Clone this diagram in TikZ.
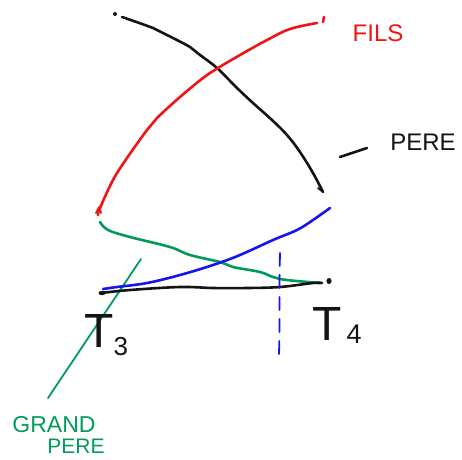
\documentclass[tikz,border=0pt]{standalone}
\usepackage{fontspec}
\setmainfont{Liberation Sans}
\definecolor{sred}{RGB}{240,20,20}
\definecolor{sgreen}{RGB}{0,155,90}
\definecolor{sblue}{RGB}{20,20,235}
\definecolor{sblack}{RGB}{20,20,20}
\begin{document}
\begin{tikzpicture}[x=1pt,y=-1pt,
  stroke/.style={line width=2.6pt,line cap=round,line join=round},
  thinstroke/.style={line width=1.8pt,line cap=round,line join=round},
  lbl/.style={inner sep=0pt,font=\fontsize{#1}{#1}\selectfont},
  lbl/.default=24]
\useasboundingbox (0,0) rectangle (462,459);
% black curve (PERE)
\fill[sblack] (115,14) circle (2pt);
\draw[stroke,sblack] plot[smooth,tension=0.6] coordinates {(122,17) (153,28) (167,35) (190,47) (200,55) (217,68) (237,88) (253,103) (272,120) (287,135) (300,152) (313,173) (323,192)};
\draw[thinstroke,sblack] (318,188) -- (323,192);
% red curve (FILS)
\draw[stroke,sred] plot[smooth,tension=0.6] coordinates {(98,215) (100,208) (113,180) (127,158) (147,130) (157,118) (180,97) (203,78) (218,68) (240,55) (267,40) (290,29) (317,23)};
\draw[thinstroke,sred] (96,213) -- (99,207) -- (101,213);
\draw[stroke,sred] (324,17) -- (323,22);
% green curve
\draw[stroke,sgreen] plot[smooth,tension=0.6] coordinates {(100,222) (108,230) (130,237) (170,247) (190,255) (220,262) (233,267) (260,272) (273,277) (287,280) (320,283)};
% green line (GRAND PERE)
\draw[thinstroke,sgreen] (141,259) -- (48,398);
% blue curve
\draw[stroke,sblue] plot[smooth,tension=0.6] coordinates {(103,289) (117,287) (147,283) (180,275) (213,265) (240,255) (273,240) (297,230) (313,220) (330,208)};
% black horizontal
\draw[stroke,sblack] plot[smooth,tension=0.6] coordinates {(101,293) (130,290) (180,287) (213,288) (247,288) (280,287) (313,283) (322,283)};
\fill[sblack] (102,293) ellipse (3.5pt and 2.2pt);
\fill[sblack] (329,281) ellipse (2.6pt and 3pt);
% blue dashed vertical
\draw[thinstroke,sblue,dash pattern=on 13pt off 9pt] (280,253) .. controls (279,290) and (280,320) .. (279,354);
% PERE leader
\draw[stroke,sblack] (367,148) -- (340,157);
% labels
\node[lbl=24,text=sred] (fils) at (378,33) {FILS};
\node[lbl=24,text=sblack] (pere) at (423,142) {PERE};
\node[lbl=23,text=sgreen] (grand) at (54,425) {GRAND};
\node[lbl=21,text=sgreen] (gpere) at (76,446) {PERE};
\node[lbl=48,text=sblack,anchor=base west] (t3) at (84,347) {T\raisebox{-8pt}{\fontsize{26}{26}\selectfont 3}};
\node[lbl=48,text=sblack,anchor=base west] (t4) at (312,340) {T\hspace{5pt}\raisebox{-3pt}{\fontsize{27}{27}\selectfont 4}};
\end{tikzpicture}
\end{document}
